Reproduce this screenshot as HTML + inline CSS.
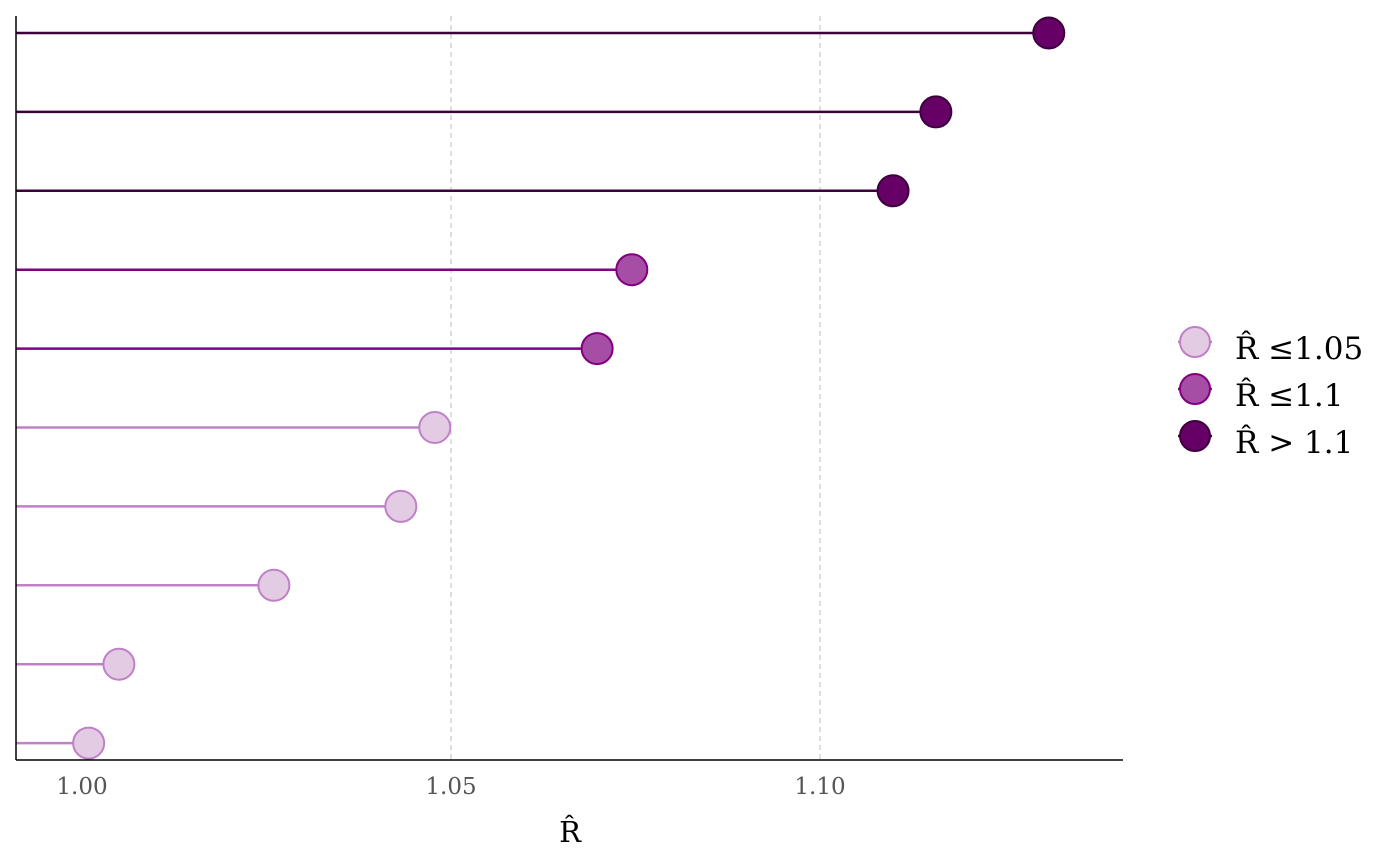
<!DOCTYPE html>
<html><head><meta charset="utf-8"><style>
body{margin:0;background:#fff;}
svg{display:block;font-family:"DejaVu Serif","Liberation Serif",serif;}
</style></head><body>
<svg id="chart" width="1400" height="866">
<g id="grid"></g><g id="marks"></g>
<line x1="16" y1="16" x2="16" y2="760" stroke="#000" stroke-width="1.5"/>
<line x1="16" y1="760" x2="1123" y2="760" stroke="#000" stroke-width="1.5"/>
<g id="ticks"></g>
<text x="570" y="842" font-size="29" text-anchor="middle">R̂</text>
<g>
 <g>
  <line x1="1178" y1="342" x2="1212" y2="342" stroke="#c080c8" stroke-width="2.5"/>
  <circle cx="1195" cy="342" r="15" fill="#e3cbe3" stroke="#c080c8" stroke-width="2"/>
  <text x="1235" y="359" font-size="31">R̂ ≤1.05</text></g>
 <g>
  <line x1="1178" y1="389" x2="1212" y2="389" stroke="#800080" stroke-width="2.5"/>
  <circle cx="1195" cy="389" r="15" fill="#a64da6" stroke="#800080" stroke-width="2"/>
  <text x="1235" y="406" font-size="31">R̂ ≤1.1</text></g>
 <g>
  <line x1="1178" y1="436" x2="1212" y2="436" stroke="#3d003d" stroke-width="2.5"/>
  <circle cx="1195" cy="436" r="15" fill="#660066" stroke="#3d003d" stroke-width="2"/>
  <text x="1235" y="453" font-size="31">R̂ &gt; 1.1</text></g>
</g>
</svg>
<script>
const values=[1.1310,1.1157,1.1099,1.0745,1.0698,1.0478,1.0432,1.0260,1.0050,1.0009];
const tickValues=[1.00,1.05,1.10];
const tickLabels=["1.00","1.05","1.10"];
const gridValues=[1.05,1.10];
const NS="http://www.w3.org/2000/svg";
const xs=v=>82+(v-1)*7380;
const ys=i=>33+i*78.9;
function mk(t,a,p){const e=document.createElementNS(NS,t);for(const k in a)e.setAttribute(k,a[k]);p.appendChild(e);return e;}
const grid=document.getElementById('grid'),ticks=document.getElementById('ticks'),marks=document.getElementById('marks');
gridValues.forEach(v=>{
 const g=mk('line',{x1:xs(v),x2:xs(v),y1:16,y2:760,stroke:'#c8c8c8','stroke-width':1.2,'stroke-dasharray':'5,4'},grid);
 
 
});
tickValues.forEach((v,i)=>{
 const t=mk('text',{x:xs(v),y:794,'font-size':23,fill:'#555','text-anchor':'middle'},ticks);
 t.textContent=tickLabels[i];
 
 
});
values.forEach((v,i)=>{
 let line,fill,stroke;
 if(v<=1.05){line='#c080c8';fill='#e3cbe3';stroke='#c080c8';}
 else if(v<=1.1){line='#800080';fill='#a64da6';stroke='#800080';}
 else{line='#3d003d';fill='#660066';stroke='#3d003d';}
 const y=ys(i);
 const l=mk('line',{x1:16,x2:xs(v),y1:y,y2:y,stroke:line,'stroke-width':2.5},marks);
 
 
 const c=mk('circle',{cx:xs(v),cy:y,r:15.5,fill:fill,stroke:stroke,'stroke-width':2},marks);
 
 
});
</script>
</body></html>
